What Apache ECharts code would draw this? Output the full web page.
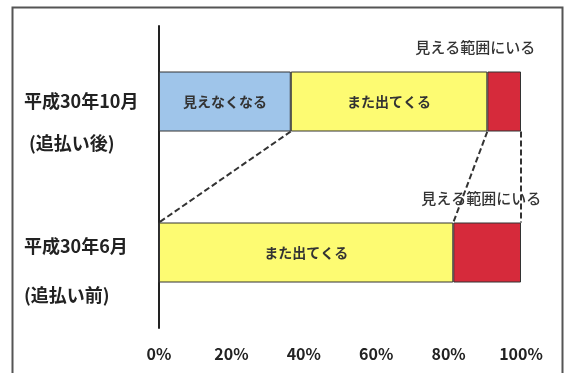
<!DOCTYPE html>
<html>
<head>
<meta charset="utf-8">
<script src="https://cdn.jsdelivr.net/npm/echarts@6/dist/echarts.min.js"></script>
<style>
  html, body { margin: 0; padding: 0; background: #fff; }
  #chart { width: 565px; height: 373px; }
</style>
</head>
<body>
<div id="chart"></div>
<script>
// data (percent of total)
const periods = ["平成30年10月", "平成30年6月"];
const periodNotes = ["(追払い後)", "(追払い前)"];
const seriesNames = ["見えなくなる", "また出てくる", "見える範囲にいる"];
const hiddenShare = [36.4, 0];
const returnShare = [54.3, 81.3];
const visibleShare = [9.3, 18.7];
const tickLabels = ["0%", "20%", "40%", "60%", "80%", "100%"];

const BAR_WIDTH = 60;
const FONT = "'Noto Sans CJK JP', 'Noto Sans', sans-serif";
const COLORS = ["#9fc5ea", "#fdfb72", "#d62a3b"];
const redLabelOffsets = [[-29, -17], [-6, -17]];

// cumulative boundaries per period, used for the dashed connectors
const shares = [hiddenShare, returnShare, visibleShare];
function cumulative(period, upto) {
  let total = 0;
  for (let k = 0; k <= upto; k++) {
    total += shares[k][period];
  }
  return Math.round(total * 10) / 10;
}
const connectors = shares.map((_, k) => [cumulative(0, k), cumulative(1, k), 0]);

const chart = echarts.init(document.getElementById("chart"));

function barSeries(index, values) {
  return {
    name: seriesNames[index],
    type: "bar",
    stack: "total",
    barWidth: BAR_WIDTH,
    data: values,
    itemStyle: { color: COLORS[index], borderColor: "#333", borderWidth: 1 },
    label: {
      show: true,
      position: "inside",
      formatter: (p) => (p.value > 0 ? p.seriesName : ""),
      fontFamily: FONT,
      fontSize: 14,
      fontWeight: "bold",
      color: "#333",
    },
    emphasis: { disabled: true },
  };
}

const labelRich = {};
const spacer = [42, 36];
const lineGap = [42, 49];
[0, 1].forEach((i) => {
  const base = { fontFamily: FONT, fontSize: 18, fontWeight: "bold", color: "#222" };
  labelRich[`s${i}`] = { fontSize: 2, lineHeight: spacer[i] };
  labelRich[`m${i}`] = { ...base, lineHeight: lineGap[i] };
  labelRich[`n${i}`] = { ...base, lineHeight: lineGap[i], padding: [0, 0, 0, i === 0 ? 5 : 0] };
});

chart.setOption({
  animation: false,
  grid: { left: 159, right: 44, top: 26, bottom: 45 },
  graphic: [
    {
      type: "rect",
      left: 10,
      top: 5,
      shape: { width: 550, height: 420 },
      style: { fill: "none", stroke: "#555", lineWidth: 2 },
      silent: true,
    },
  ],
  xAxis: {
    type: "value",
    min: 0,
    max: 100,
    interval: 20,
    axisLine: { show: false },
    axisTick: { show: false },
    splitLine: { show: false },
    axisLabel: {
      margin: 18,
      formatter: (v) => tickLabels[Math.round(v / 20)],
      fontFamily: FONT,
      fontSize: 16,
      fontWeight: "bold",
      color: "#222",
    },
  },
  yAxis: {
    type: "category",
    inverse: true,
    data: periods,
    axisLine: { show: true, lineStyle: { color: "#222", width: 2 } },
    axisTick: { show: false },
    axisLabel: {
      margin: 135,
      align: "left",
      formatter: (value, index) => `{s${index}| }\n{m${index}|${value}}\n{n${index}|${periodNotes[index]}}`,
      rich: labelRich,
    },
  },
  series: [
    barSeries(0, hiddenShare),
    barSeries(1, returnShare),
    {
      ...barSeries(2, visibleShare.map((v, i) => ({
        value: v,
        label: { offset: redLabelOffsets[i] },
      }))),
      label: {
        show: true,
        position: "top",
        distance: 0,
        formatter: (p) => p.seriesName,
        fontFamily: FONT,
        fontSize: 15,
        fontWeight: 500,
        color: "#333",
      },
    },
    {
      type: "custom",
      data: connectors,
      encode: { x: [0, 1], y: 2 },
      silent: true,
      z: 5,
      renderItem: (params, api) => {
        const half = BAR_WIDTH / 2;
        const a = api.coord([api.value(0), 0]);
        const b = api.coord([api.value(1), 1]);
        return {
          type: "line",
          shape: { x1: a[0], y1: a[1] + half, x2: b[0], y2: b[1] - half },
          style: { stroke: "#333", lineWidth: 2, lineDash: [6, 3] },
        };
      },
    },
  ],
});
</script>
</body>
</html>
